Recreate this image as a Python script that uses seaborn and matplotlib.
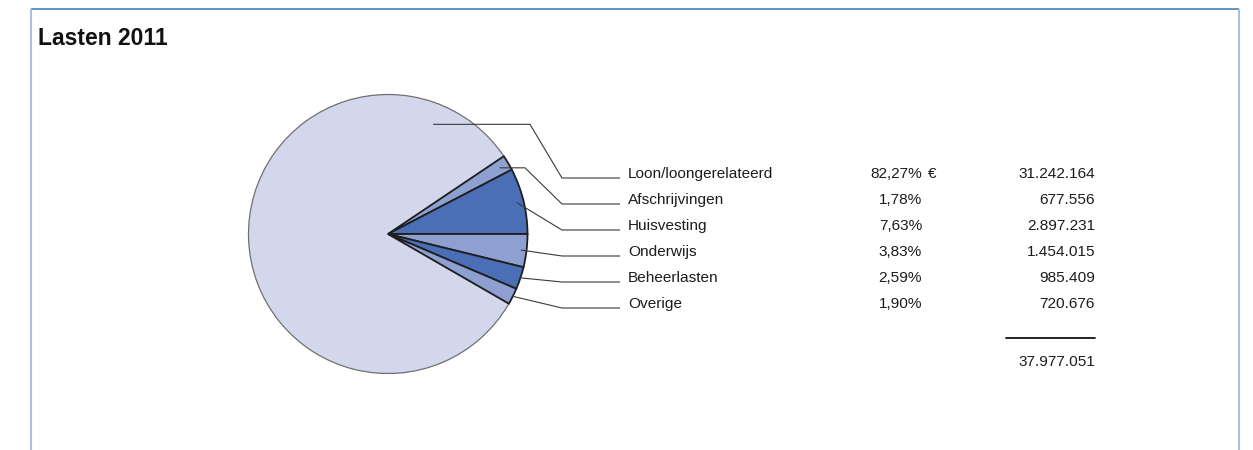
import numpy as np
import matplotlib
matplotlib.use("Agg")
import matplotlib.pyplot as plt
import seaborn as sns

# Expense breakdown for 2011 (amounts in euro)
title = "Lasten 2011"
categories = ["Loon/loongerelateerd", "Afschrijvingen", "Huisvesting",
              "Onderwijs", "Beheerlasten", "Overige"]
amounts = [31242164, 677556, 2897231, 1454015, 985409, 720676]

sns.set_theme(style="white")
plt.rcParams["font.family"] = ["Liberation Sans", "DejaVu Sans"]

W, H = 1253, 450
fig = plt.figure(figsize=(W / 100, H / 100), dpi=100)
ax = fig.add_axes([0, 0, 1, 1])


def py(y):
    """Convert a top-down pixel row to the axes' bottom-up coordinate."""
    return H - y


light, mid, dark = "#D3D7EC", "#8EA0D2", "#4A6FB6"
colors = [light, mid, dark, mid, dark, mid]

total = sum(amounts)
pcts = [100 * a / total for a in amounts]

# Rotate so that the boundary between Huisvesting and Onderwijs sits at 3 o'clock
start = 360 * sum(amounts[:3]) / total
cx, cy, R = 388, py(234), 139.5
wedges, _ = ax.pie(amounts, colors=colors, startangle=start, counterclock=False,
                   center=(cx, cy), radius=R,
                   wedgeprops=dict(edgecolor="#1f1f1f", linewidth=1.3))
wedges[0].set_edgecolor("#707070")
wedges[0].set_linewidth(0.9)

ax.set_xlim(0, W)
ax.set_ylim(0, H)
ax.set_aspect("equal")
ax.axis("off")

# Leader lines from each wedge to its row in the table
row_y = [178 + 26 * i for i in range(len(categories))]
anchor_r = [0.85, 0.93, 0.95, 0.96, 0.99, 1.0]
knee_x = [530, 525, None, None, None, None]
elbow_x, line_end = 562, 620
line_col = "#3a3a3a"
for i, w in enumerate(wedges):
    if i == 0:
        ang = w.theta1 + 0.114 * (w.theta2 - w.theta1)
    else:
        ang = 0.5 * (w.theta1 + w.theta2)
    ax_ = cx + anchor_r[i] * R * np.cos(np.radians(ang))
    ay_ = cy + anchor_r[i] * R * np.sin(np.radians(ang))
    xs, ys = [ax_], [ay_]
    if knee_x[i] is not None:
        xs.append(knee_x[i])
        ys.append(ay_)
    xs += [elbow_x, line_end]
    ys += [py(row_y[i]), py(row_y[i])]
    ax.plot(xs, ys, color=line_col, lw=0.8, solid_capstyle="butt", zorder=5)


def fmt_amount(v):
    return f"{v:,}".replace(",", ".")


fs = 11.1
txt_col = "#1c1c1c"
for i, name in enumerate(categories):
    y = py(row_y[i])
    ax.text(628, y, name, fontsize=fs, color=txt_col, ha="left", va="baseline")
    ax.text(922, y, f"{pcts[i]:.2f}%".replace(".", ","), fontsize=fs,
            color=txt_col, ha="right", va="baseline")
    ax.text(1095, y, fmt_amount(amounts[i]), fontsize=fs, color=txt_col,
            ha="right", va="baseline")
ax.text(928, py(row_y[0]), "€", fontsize=fs, color=txt_col, ha="left", va="baseline")

# Total
ax.plot([1006, 1095], [py(338), py(338)], color="#111111", lw=1.3)
ax.text(1095, py(366), fmt_amount(total), fontsize=fs, color=txt_col,
        ha="right", va="baseline")

# Title
ax.text(38, py(45), title, fontsize=16.5, fontweight="bold", color="#111111",
        ha="left", va="baseline")

# Panel frame
ax.plot([31, 1239], [py(9), py(9)], color="#4A7EBB", lw=1.2, solid_capstyle="butt")
ax.plot([31, 31], [py(9), py(H)], color="#A6BFE2", lw=1.5, solid_capstyle="butt")
ax.plot([1239, 1239], [py(9), py(H)], color="#A6BFE2", lw=1.5, solid_capstyle="butt")

fig.savefig("out.png", dpi=100, facecolor="white")
